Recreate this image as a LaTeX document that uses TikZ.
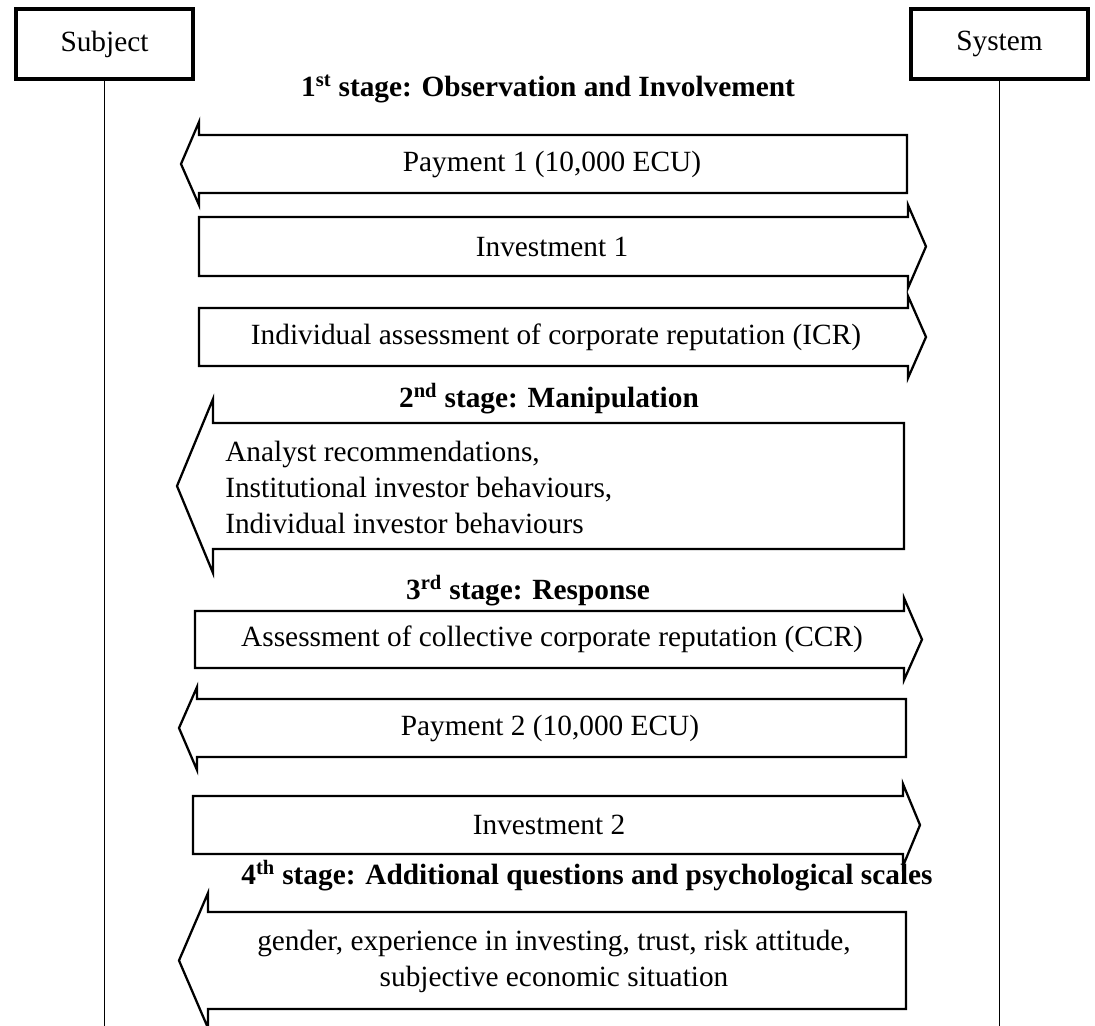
\documentclass[tikz,border=0pt]{standalone}
\usepackage{fontspec}
\setmainfont{Liberation Serif}
\newcommand\BlockArr[8]{\draw[blockarr] (#1,#3) -- (#2,#3) -- (#2,#5) -- (#7,#8) -- (#2,#6) -- (#2,#4) -- (#1,#4) -- cycle;}
\begin{document}
\begin{tikzpicture}[x=0.75pt,y=-0.75pt,
  every node/.style={font=\fontsize{22}{27}\selectfont, inner sep=0pt},
  actor/.style={draw, line width=2.6pt, minimum width=132.75pt, minimum height=52.5pt, inner sep=0pt},
  lifeline/.style={line width=1.3pt},
  blockarr/.style={line width=1.7pt, line join=miter},
  stagetitle/.style={font=\fontsize{22}{27}\selectfont\bfseries}]
\useasboundingbox (0,0) rectangle (1095,1025);
\clip (0,0) rectangle (1095,1025);
\fill[white] (0,0) rectangle (1095,1025);

% actors
\node[actor] (subj) at (104.5,44) {Subject};
\node[actor] (sys) at (999.5,44) {System};
\coordinate (subjend) at (104.5,1030);
\coordinate (sysend) at (999.5,1030);
\draw[lifeline] (subj.south) -- (subjend);
\draw[lifeline] (sys.south) -- (sysend);

% 1st stage
\node[stagetitle] (t1) at (548,89) {1\textsuperscript{st} stage: Observation and Involvement};
\BlockArr{907}{199}{135}{193}{122}{205}{181}{164}
\node (p1) at (552,164) {Payment 1 (10,000 ECU)};
\BlockArr{199}{908}{217}{276}{205}{288}{926}{246.5}
\node (i1) at (552,246.5) {Investment 1};
\BlockArr{199}{908}{308}{366}{296}{378}{926}{337}
\node (icr) at (556,337) {Individual assessment of corporate reputation (ICR)};

% 2nd stage
\node[stagetitle] (t2) at (549,399) {2\textsuperscript{nd} stage: Manipulation};
\BlockArr{904}{213}{423}{549}{399}{573}{177}{486}
\node[anchor=west, align=left] (man) at (225,487) {Analyst recommendations,\\Institutional investor behaviours,\\Individual investor behaviours};

% 3rd stage
\node[stagetitle] (t3) at (528,591) {3\textsuperscript{rd} stage: Response};
\BlockArr{195}{904}{611}{668}{598}{680}{922}{639.5}
\node (ccr) at (552,639.5) {Assessment of collective corporate reputation (CCR)};
\BlockArr{906}{197}{699}{757}{687}{770}{179}{728}
\node (p2) at (550,728) {Payment 2 (10,000 ECU)};
\BlockArr{193}{903}{796}{854}{784}{866}{920}{825}
\node (i2) at (549,825) {Investment 2};

% 4th stage
\node[stagetitle] (t4) at (587,876) {4\textsuperscript{th} stage: Additional questions and psychological scales};
\BlockArr{906}{208}{912}{1009}{893}{1028}{179}{960.5}
\node[align=center] (q) at (554,961) {gender, experience in investing, trust, risk attitude,\\subjective economic situation};
\end{tikzpicture}
\end{document}
